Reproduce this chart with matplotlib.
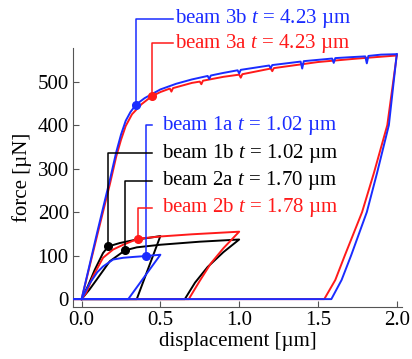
import numpy as np
import matplotlib
matplotlib.use("Agg")
import matplotlib.pyplot as plt

plt.rcParams['font.family'] = ['Liberation Serif', 'DejaVu Serif']
plt.rcParams['mathtext.fontset'] = 'custom'
plt.rcParams['mathtext.rm'] = 'Liberation Serif'
plt.rcParams['mathtext.it'] = 'Liberation Serif:italic'

BLUE = '#1a2cff'
RED = '#ff1a1a'
BLACK = '#000000'

# beam 3b (blue, t = 4.23 um)
b3b_load_x = [-0.06, 0.0, 0.10, 0.18, 0.22, 0.25, 0.28, 0.31, 0.345, 0.40, 0.5, 0.6, 0.7, 0.80, 0.81, 0.82,
              0.9, 0.99, 1.0, 1.01, 1.1, 1.19, 1.20, 1.21, 1.3, 1.39, 1.40, 1.41, 1.5, 1.59, 1.60,
              1.61, 1.7, 1.80, 1.81, 1.82, 1.9, 2.0]
b3b_load_f = [0, 0, 155, 275, 338, 378, 410, 430, 447, 462, 482, 495, 505, 513, 506, 514,
              520, 526, 519, 527, 532, 537, 531, 538, 542, 546, 530, 547, 550, 553, 543,
              554, 556, 558, 542, 559, 562, 563]
b3b_unload_x = [2.0, 1.95, 1.875, 1.81, 1.71, 1.65, 1.585, -0.06]
b3b_unload_f = [563, 400, 290, 200, 100, 44, 0, 0]

# beam 3a (red, t = 4.23 um)
b3a_load_x = [-0.06, 0.0, 0.10, 0.18, 0.22, 0.25, 0.28, 0.32, 0.38, 0.444, 0.5, 0.56, 0.57, 0.58, 0.7,
              0.75, 0.76, 0.77, 0.9, 1.0, 1.01, 1.02, 1.2, 1.21, 1.22, 1.5, 1.75, 2.0]
b3a_load_f = [0, 0, 148, 265, 328, 366, 398, 425, 448, 466, 476, 484, 477, 485, 497,
              500, 494, 502, 511, 516, 509, 517, 530, 524, 531, 545, 553, 560]
b3a_unload_x = [2.0, 1.94, 1.855, 1.78, 1.67, 1.61, 1.54, -0.06]
b3a_unload_f = [560, 400, 290, 200, 100, 44, 0, 0]

# beam 1a (blue, t = 1.02 um)
b1a_x = [0.0, 0.051, 0.10, 0.136, 0.20, 0.264, 0.33, 0.406, 0.5, 0.296, 0.0]
b1a_f = [0, 36, 62, 75, 91, 95, 97, 99, 102, 0, 0]

# beam 1b (black, t = 1.02 um)
b1b_x = [0.0, 0.04, 0.083, 0.136, 0.169, 0.243, 0.35, 0.43, 0.5, 0.35, 0.0]
b1b_f = [0, 30, 67, 106, 121, 129, 137, 141, 145, 0, 0]

# beam 2a (black, t = 1.70 um)
b2a_x = [0.0, 0.05, 0.094, 0.179, 0.275, 0.35, 0.5, 0.75, 1.0, 0.9, 0.8, 0.72, 0.655, 0.0]
b2a_f = [0, 22, 44, 87, 112, 119, 125, 132, 137, 108, 74, 38, 0, 0]

# beam 2b (red, t = 1.78 um)
b2b_x = [0.0, 0.03, 0.072, 0.136, 0.20, 0.264, 0.36, 0.5, 0.7, 0.85, 1.0, 0.9, 0.82, 0.75, 0.68, 0.0]
b2b_f = [0, 15, 52, 95, 114, 125, 139, 144, 149, 152, 155, 117, 82, 42, 0, 0]

# labelled points on the curves
mark_names = ['beam 3b', 'beam 3a', 'beam 1a', 'beam 1b', 'beam 2a', 'beam 2b']
mark_t = ['4.23', '4.23', '1.02', '1.02', '1.70', '1.78']
mark_x = [0.345, 0.444, 0.406, 0.169, 0.275, 0.36]
mark_f = [447, 466, 99, 121, 112, 139]
mark_colors = [BLUE, RED, BLUE, BLACK, BLACK, RED]

# label layout
label_f = [645, 588, 400, 335, 272, 210]
elbow_end = [0.582, 0.582, 0.444, 0.444, 0.444, 0.444]
text_x = [0.59, 0.59, 0.508, 0.508, 0.508, 0.508]

fig = plt.figure(figsize=(4.12, 3.59), dpi=100)
ax = fig.add_axes([0.177, 0.145, 0.799, 0.721])

lw = 1.4
ax.plot(b2a_x, b2a_f, color=BLACK, lw=lw, zorder=2)
ax.plot(b1b_x, b1b_f, color=BLACK, lw=lw, zorder=2)
ax.plot(b2b_x, b2b_f, color=RED, lw=lw, zorder=3)
ax.plot(b3a_load_x, b3a_load_f, color=RED, lw=lw, zorder=3)
ax.plot(b3a_unload_x, b3a_unload_f, color=RED, lw=lw, zorder=3)
ax.plot(b1a_x, b1a_f, color=BLUE, lw=lw, zorder=4)
ax.plot(b3b_load_x, b3b_load_f, color=BLUE, lw=lw, zorder=4)
ax.plot(b3b_unload_x, b3b_unload_f, color=BLUE, lw=lw, zorder=4)

for i in range(len(mark_names)):
    c = mark_colors[i]
    ax.plot([mark_x[i], mark_x[i], elbow_end[i]], [mark_f[i], label_f[i], label_f[i]],
            color=c, lw=1.1, zorder=5, clip_on=False)
    ax.plot(mark_x[i], mark_f[i], 'o', color=c, ms=5.5, zorder=6, clip_on=False)
    ax.text(text_x[i], label_f[i], mark_names[i] + ' $t$ = ' + mark_t[i] + ' µm',
            color=c, fontsize=15, va='center', ha='left', clip_on=False)

ax.set_xlim(-0.055, 2.034)
ax.set_ylim(-18, 577)
ax.set_xticks([0.0, 0.5, 1.0, 1.5, 2.0])
ax.set_xticklabels(['0.0', '0.5', '1.0', '1.5', '2.0'])
ax.set_yticks([0, 100, 200, 300, 400, 500])
ax.tick_params(direction='in', length=4, labelsize=15, color='#555555', pad=3)
for s in ['top', 'right']:
    ax.spines[s].set_visible(False)
for s in ['left', 'bottom']:
    ax.spines[s].set_color('#555555')
ax.set_xlabel('displacement [µm]', fontsize=15, labelpad=1)
ax.set_ylabel('force [µN]', fontsize=15, labelpad=4)

fig.savefig('out.png', dpi=100)
